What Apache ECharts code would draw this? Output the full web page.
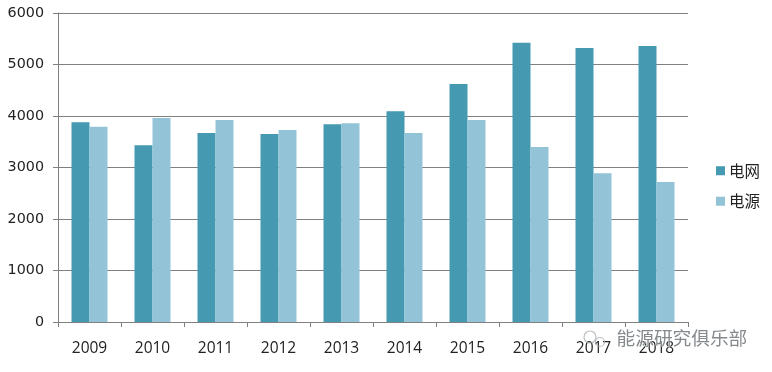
<!DOCTYPE html>
<html><head><meta charset="utf-8">
<style>html,body{margin:0;padding:0;background:#fff}#c{width:772px;height:372px}</style>
<script src="https://cdn.jsdelivr.net/npm/echarts@6/dist/echarts.min.js"></script>
</head><body><div id="c"></div>
<script>
const years = ['2009','2010','2011','2012','2013','2014','2015','2016','2017','2018'];
const grid = [3880,3430,3670,3650,3840,4090,4620,5420,5320,5360];
const source = [3790,3960,3920,3730,3860,3670,3920,3400,2890,2720];
const chart = echarts.init(document.getElementById('c'), null, {renderer:'canvas'});
const font = '"DejaVu Sans",sans-serif';
const xfont = '"Open Sans",sans-serif';
const cjk = '"Noto Sans CJK SC",sans-serif';
chart.setOption({
  animation:false,
  backgroundColor:'#fff',
  grid:{left:58,right:84,top:13,bottom:50,containLabel:false},
  legend:{
    orient:'vertical',left:711,top:158,itemWidth:9,itemHeight:9,itemGap:15,
    icon:'rect',
    textStyle:{fontFamily:cjk,fontSize:15.5,color:'#222',padding:[0,0,0,-1]},
    data:['电网','电源']
  },
  xAxis:{
    type:'category',data:years,
    axisLine:{lineStyle:{color:'#808080',width:1}},
    axisTick:{show:true,length:5,alignWithLabel:false,lineStyle:{color:'#808080'}},
    axisLabel:{fontFamily:xfont,fontSize:15.5,color:'#222',margin:19}
  },
  yAxis:{
    type:'value',min:0,max:6000,interval:1000,
    axisLine:{show:true,lineStyle:{color:'#808080',width:1}},
    axisTick:{show:true,length:5,lineStyle:{color:'#808080'}},
    axisLabel:{fontFamily:font,fontSize:14.3,color:'#222',margin:14,formatter:function(v){return String(v);}},
    splitLine:{lineStyle:{color:'#808080',width:1}}
  },
  series:[
    {name:'电网',type:'bar',data:grid,barWidth:18,barGap:0,itemStyle:{color:'#4599B1'}},
    {name:'电源',type:'bar',data:source,barWidth:18,barGap:0,itemStyle:{color:'#92C3D6'}}
  ],
  graphic:[
    {type:'text',left:616,top:328,z:50,style:{text:'能源研究俱乐部',fontFamily:cjk,fontSize:18.7,fill:'rgba(120,125,130,0.9)',stroke:'rgba(255,255,255,0.7)',lineWidth:1}},
    {type:'circle',shape:{cx:590,cy:337,r:6},z:50,style:{fill:'none',stroke:'rgba(170,175,178,0.8)',lineWidth:1.2}},
    {type:'circle',shape:{cx:600,cy:342,r:4.5},z:50,style:{fill:'none',stroke:'rgba(170,175,178,0.8)',lineWidth:1.2}}
  ]
});
</script></body></html>
